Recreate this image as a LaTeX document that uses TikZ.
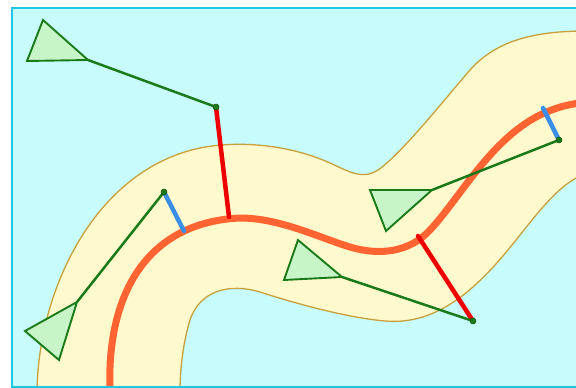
\documentclass[tikz,border=0pt]{standalone}
\begin{document}
\begin{tikzpicture}[x=1pt,y=-1pt,
  bandedge/.style={draw=bandline,line width=1.3pt},
  route/.style={draw=routeor,line width=7pt},
  redbar/.style={draw=barred,line width=4.5pt,line cap=round},
  bluebar/.style={draw=barblue,line width=4.5pt,line cap=round},
  link/.style={draw=linkgreen,line width=2.5pt},
  tri/.style={draw=linkgreen,fill=trifill,line width=1.9pt,line join=miter},
  pin/.style={fill=linkgreen,draw=linkgreen!70!black,line width=0.5pt}]
\definecolor{bgcyan}{RGB}{200,252,252}
\definecolor{framecyan}{RGB}{30,200,228}
\definecolor{bandfill}{RGB}{255,250,205}
\definecolor{bandline}{RGB}{200,160,60}
\definecolor{routeor}{RGB}{255,100,50}
\definecolor{barred}{RGB}{238,0,0}
\definecolor{barblue}{RGB}{58,142,230}
\definecolor{linkgreen}{RGB}{26,122,26}
\definecolor{trifill}{RGB}{200,245,200}
\useasboundingbox (0,0) rectangle (576,388);
\fill[white] (0,0) rectangle (576,388);
\fill[bgcyan] (12,8) rectangle (580,387);
% band
\def\outeredge{(37,392) .. controls (38,290) and (95,170) .. (200,148)
  .. controls (240,140) and (290,145) .. (330,163)
  .. controls (350,172) and (362,180) .. (378,170)
  .. controls (400,155) and (440,105) .. (470,70)
  .. controls (495,42) and (530,32) .. (580,31)}
\def\inneredge{(580,176) .. controls (550,190) and (525,232) .. (495,265)
  .. controls (465,298) and (430,325) .. (385,321)
  .. controls (350,318) and (300,305) .. (260,292)
  .. controls (230,283) and (200,290) .. (190,320)
  .. controls (184,340) and (180,365) .. (180,392)}
\fill[bandfill] (37,392) .. controls (38,290) and (95,170) .. (200,148)
  .. controls (240,140) and (290,145) .. (330,163)
  .. controls (350,172) and (362,180) .. (378,170)
  .. controls (400,155) and (440,105) .. (470,70)
  .. controls (495,42) and (530,32) .. (580,31)
  -- (580,176) .. controls (550,190) and (525,232) .. (495,265)
  .. controls (465,298) and (430,325) .. (385,321)
  .. controls (350,318) and (300,305) .. (260,292)
  .. controls (230,283) and (200,290) .. (190,320)
  .. controls (184,340) and (180,365) .. (180,392) -- cycle;
\path[bandedge] \outeredge;
\path[bandedge] \inneredge;
% route
\path[route] (110,392) .. controls (106,290) and (150,222) .. (240,218)
  .. controls (280,218) and (320,238) .. (350,247)
  .. controls (380,256) and (410,252) .. (430,230)
  .. controls (460,198) and (490,140) .. (540,115)
  .. controls (555,108) and (565,105) .. (580,103);
% coordinates
\coordinate (p1) at (216,107);
\coordinate (r1) at (229,217);
\coordinate (p2) at (164,192);
\coordinate (b1) at (184,231);
\coordinate (p3) at (559,140);
\coordinate (b2) at (543,108);
\coordinate (p4) at (473,321);
\coordinate (r2) at (418,236);
\coordinate (t1a) at (43,20);
\coordinate (t1b) at (27,61);
\coordinate (t1c) at (88,60);
\coordinate (t2a) at (77,302);
\coordinate (t2b) at (25,331);
\coordinate (t2c) at (59,360);
\coordinate (t3a) at (432,190);
\coordinate (t3b) at (370,190);
\coordinate (t3c) at (386,231);
\coordinate (t4a) at (342,277);
\coordinate (t4b) at (298,240);
\coordinate (t4c) at (284,280);
% bars
\draw[redbar] (p1) -- (r1);
\draw[bluebar] (p2) -- (b1);
\draw[bluebar] (p3) -- (b2);
\draw[redbar] (p4) -- (r2);
% links
\draw[link] (p1) -- (t1c);
\draw[link] (p2) -- (t2a);
\draw[link] (p3) -- (t3a);
\draw[link] (p4) -- (t4a);
% triangles
\draw[tri] (t1a) -- (t1b) -- (t1c) -- cycle;
\draw[tri] (t2a) -- (t2b) -- (t2c) -- cycle;
\draw[tri] (t3a) -- (t3b) -- (t3c) -- cycle;
\draw[tri] (t4a) -- (t4b) -- (t4c) -- cycle;
% pins
\foreach \p in {p1,p2,p3,p4} \path[pin] (\p) circle (3pt);
% frame
\draw[framecyan,line width=2pt] (580,8) -- (12,8) -- (12,387) -- (580,387);
\end{tikzpicture}
\end{document}
